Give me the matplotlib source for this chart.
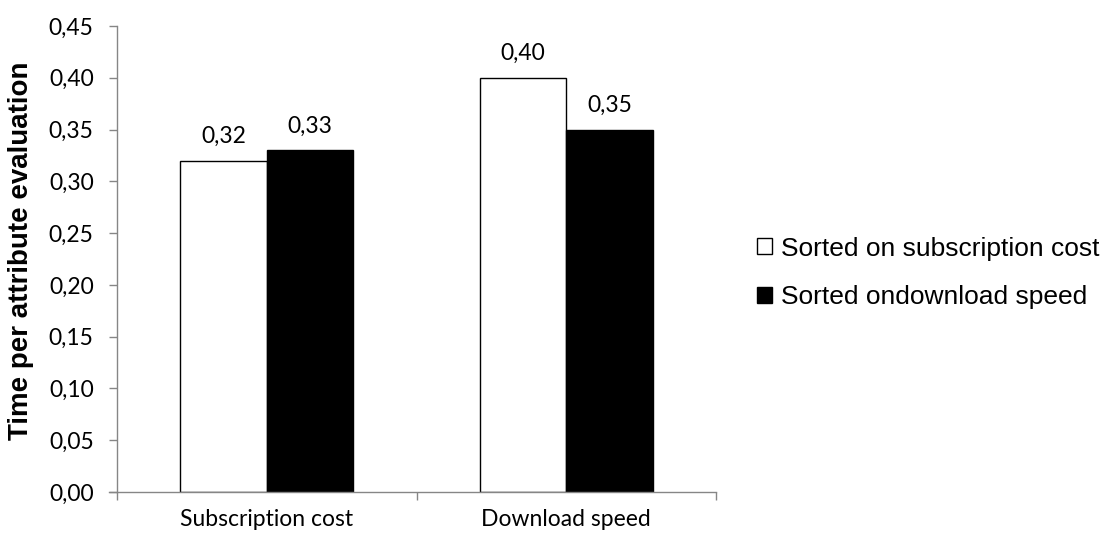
import matplotlib
matplotlib.use("Agg")
import matplotlib.pyplot as plt
import numpy as np
from matplotlib.patches import Patch

categories = ["Subscription cost", "Download speed"]
series_names = ["Sorted on subscription cost", "Sorted ondownload speed"]
sorted_cost = [0.32, 0.40]
sorted_speed = [0.33, 0.35]
yticks = [0.00, 0.05, 0.10, 0.15, 0.20, 0.25, 0.30, 0.35, 0.40, 0.45]

W, H = 1102, 540
fig = plt.figure(figsize=(W/100, H/100), dpi=100)
ax_l, ax_r, ax_t, ax_b = 117, 716, 26, 492
ax = fig.add_axes([ax_l/W, (H-ax_b)/H, (ax_r-ax_l)/W, (ax_b-ax_t)/H])

x = np.arange(len(categories))
w = 0.288
gray = "#868686"
b1 = ax.bar(x - w/2, sorted_cost, w, color="white", edgecolor="black", linewidth=1.0)
b2 = ax.bar(x + w/2, sorted_speed, w, color="black", edgecolor="black", linewidth=1.0)

lab_font = "Lato"
fs = 16.5
for bars, vals in ((b1, sorted_cost), (b2, sorted_speed)):
    for r, v in zip(bars, vals):
        ax.annotate(f"{v:.2f}".replace(".", ","), (r.get_x() + r.get_width()/2, v),
                    xytext=(0, 10), textcoords="offset points",
                    ha="center", va="bottom", fontsize=fs, family=lab_font)

ax.set_xlim(-0.5, len(categories) - 0.5)
ax.set_ylim(0, 0.45)
ax.set_yticks(yticks)
ax.set_yticklabels([f"{t:.2f}".replace(".", ",") for t in yticks], fontsize=fs, family=lab_font)
ax.set_xticks(x)
ax.set_xticklabels(categories, fontsize=fs, family=lab_font)
tl = 8 * 0.72
ax.tick_params(axis="x", length=0, pad=12)
ax.tick_params(axis="y", length=tl, color=gray, width=1, pad=11)
ax.set_xticks(np.arange(-0.5, len(categories)), minor=True)
ax.tick_params(axis="x", which="minor", length=tl, color=gray, width=1)

for s in ["top", "right"]:
    ax.spines[s].set_visible(False)
for s in ["left", "bottom"]:
    ax.spines[s].set_color(gray)
    ax.spines[s].set_linewidth(1)
cat_px = (ax_r - ax_l) / len(categories)
ax.spines["bottom"].set_bounds(-0.5 - 8/cat_px, len(categories) - 0.5)

ax.set_ylabel("Time per attribute evaluation", fontsize=20, fontweight="bold",
              family="Liberation Sans")
ax.yaxis.set_label_coords(34/W, 1 - 251/H, transform=fig.transFigure)

handles = [Patch(facecolor="white", edgecolor="black", linewidth=1),
           Patch(facecolor="black", edgecolor="black", linewidth=1)]
fig.legend(handles, series_names, loc="center left", bbox_to_anchor=(757/W, 1 - 273/H),
           frameon=False, prop={"family": "Liberation Sans", "size": 19}, borderpad=0,
           borderaxespad=0, handlelength=0.55, handleheight=0.55, handletextpad=0.35,
           labelspacing=0.94)

fig.savefig("out.png", dpi=100)
